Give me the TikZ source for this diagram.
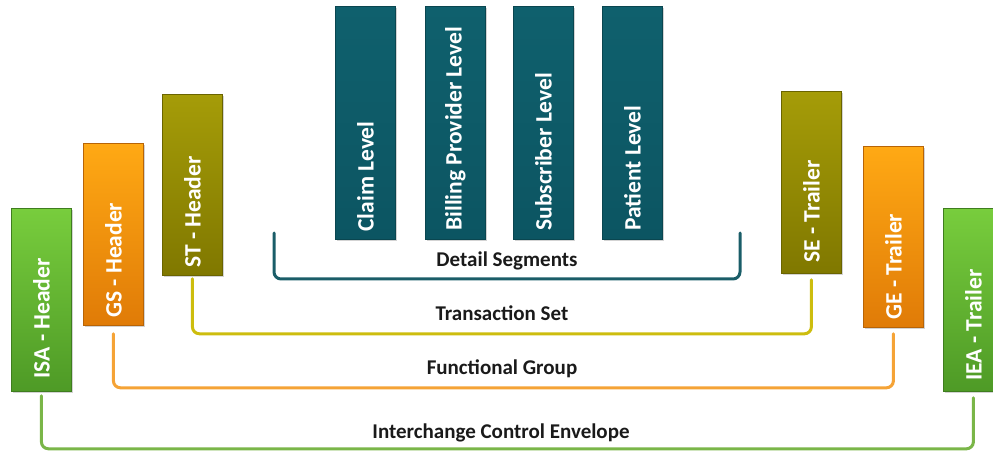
\documentclass[tikz,border=0pt]{standalone}
\usepackage{fontspec}
\setmainfont{Carlito}
\usetikzlibrary{shadows}
\definecolor{grnTop}{HTML}{78CD3D}
\definecolor{grnBot}{HTML}{4E9A26}
\definecolor{grnEdge}{HTML}{3F7D1F}
\definecolor{grnLine}{HTML}{7AB648}
\definecolor{orgTop}{HTML}{FFA914}
\definecolor{orgBot}{HTML}{E07B07}
\definecolor{orgEdge}{HTML}{B86406}
\definecolor{orgLine}{HTML}{F5A336}
\definecolor{olvTop}{HTML}{A59C08}
\definecolor{olvBot}{HTML}{807800}
\definecolor{olvEdge}{HTML}{6A6400}
\definecolor{olvLine}{HTML}{CDBD0E}
\definecolor{tealTop}{HTML}{0F606D}
\definecolor{tealBot}{HTML}{0C5562}
\definecolor{tealEdge}{HTML}{0A4650}
\definecolor{tealLine}{HTML}{1A5D68}
\definecolor{lblText}{HTML}{1A1A1A}
\tikzset{
  segbox/.style={draw, line width=0.8pt, anchor=north west, inner sep=0pt,
    minimum width=60pt, drop shadow={opacity=0.35, shadow xshift=2pt, shadow yshift=-2pt}},
  greenbox/.style={segbox, draw=grnEdge, top color=grnTop, bottom color=grnBot},
  orangebox/.style={segbox, draw=orgEdge, top color=orgTop, bottom color=orgBot},
  olivebox/.style={segbox, draw=olvEdge, top color=olvTop, bottom color=olvBot},
  tealbox/.style={segbox, draw=tealEdge, top color=tealTop, bottom color=tealBot},
  boxtext/.style={rotate=90, anchor=west, inner sep=0pt, text=white,
    font=\fontsize{23.5}{27}\selectfont\bfseries},
  grouplabel/.style={anchor=base, inner sep=0pt, text=lblText,
    font=\fontsize{21}{25}\selectfont\bfseries},
  bracket/.style={line width=3pt, rounded corners=7pt, line cap=round}
}
\begin{document}
\begin{tikzpicture}[x=1pt,y=-1pt]
\useasboundingbox (0,0) rectangle (993,454);
% header boxes
\node[greenbox, minimum height=183pt] (isa) at (11,208) {};
\node[orangebox, minimum height=182pt] (gs) at (83,143) {};
\node[olivebox, minimum height=181pt] (st) at (162,94) {};
% detail boxes
\node[tealbox, minimum height=233pt] (claim) at (335,6) {};
\node[tealbox, minimum height=233pt] (billing) at (425,6) {};
\node[tealbox, minimum height=233pt] (subscriber) at (513,6) {};
\node[tealbox, minimum height=233pt] (patient) at (602,6) {};
% trailer boxes
\node[olivebox, minimum height=182pt] (se) at (781,91) {};
\node[orangebox, minimum height=181pt] (ge) at (863,146) {};
\node[greenbox, minimum height=183pt] (iea) at (943,208) {};
% box texts
\node[boxtext] (isaT) at ([yshift=13pt]isa.south) {ISA - Header};
\node[boxtext] (gsT) at ([yshift=8pt]gs.south) {GS - Header};
\node[boxtext] (stT) at ([yshift=8pt]st.south) {ST - Header};
\node[boxtext] (claimT) at ([yshift=8pt]claim.south) {Claim Level};
\node[boxtext] (billingT) at ([yshift=9pt]billing.south) {Billing Provider Level};
\node[boxtext] (subscriberT) at ([yshift=9pt]subscriber.south) {Subscriber Level};
\node[boxtext] (patientT) at ([yshift=9pt]patient.south) {Patient Level};
\node[boxtext] (seT) at ([yshift=11pt]se.south) {SE - Trailer};
\node[boxtext] (geT) at ([yshift=8pt]ge.south) {GE - Trailer};
\node[boxtext] (ieaT) at ([yshift=11pt]iea.south) {IEA - Trailer};
% detail segments bracket
\coordinate (dsL) at (274,233);
\coordinate (dsR) at (740,233);
\draw[bracket, draw=tealLine] (dsL) -- ++(0,46) -| (dsR);
% group connectors
\draw[bracket, draw=olvLine] ([yshift=-3pt]st.south) -- ++(0,55) -| ([yshift=-6pt]se.south);
\draw[bracket, draw=orgLine] ([yshift=-8pt]gs.south) -- ++(0,54) -| ([yshift=-6pt]ge.south);
\draw[bracket, draw=grnLine] ([yshift=-4pt]isa.south) -- ++(0,53) -| ([yshift=-6pt]iea.south);
% group labels
\node[grouplabel] (lblDS) at (507,267) {Detail Segments};
\node[grouplabel] (lblTS) at (502,320) {Transaction Set};
\node[grouplabel] (lblFG) at (502,374) {Functional Group};
\node[grouplabel] (lblICE) at (501,438) {Interchange Control Envelope};
\end{tikzpicture}
\end{document}
